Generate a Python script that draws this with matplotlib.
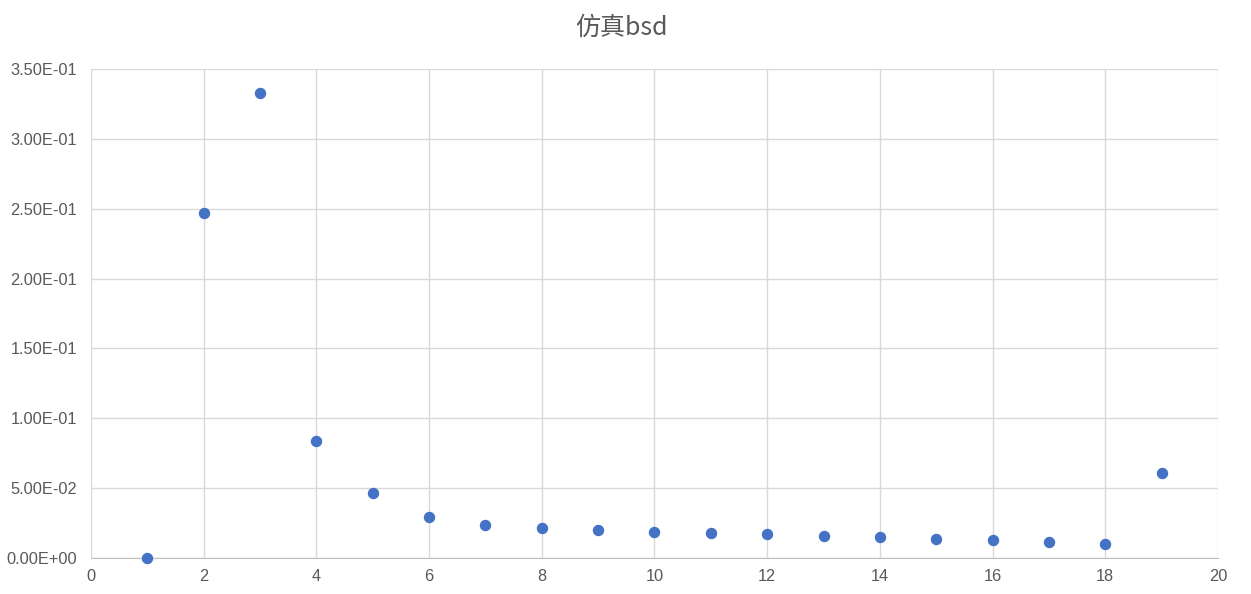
import matplotlib.pyplot as plt
from matplotlib.ticker import FuncFormatter, MultipleLocator

# data
x_vals = [1, 2, 3, 4, 5, 6, 7, 8, 9, 10, 11, 12, 13, 14, 15, 16, 17, 18, 19]
bsd_vals = [0.0003, 0.2469, 0.3328, 0.0839, 0.0467, 0.0294, 0.0234, 0.0215,
            0.0200, 0.0186, 0.0179, 0.0172, 0.0155, 0.0150, 0.0136, 0.0129,
            0.0115, 0.0098, 0.0609]
title_text = "仿真bsd"

plt.rcParams["font.family"] = ["Liberation Sans Narrow", "Liberation Sans", "DejaVu Sans"]

fig = plt.figure(figsize=(12.51, 5.94), dpi=100)
ax = fig.add_axes([0.0727, 0.0606, 0.9009, 0.8232])

ax.scatter(x_vals, bsd_vals, s=52, color="#4472C4", zorder=3, clip_on=False)

ax.set_xlim(0, 20)
ax.set_ylim(0, 0.35)
ax.xaxis.set_major_locator(MultipleLocator(2))
ax.yaxis.set_major_locator(MultipleLocator(0.05))


def sci_fmt(v, pos):
    s = "%.2E" % v
    return s


ax.yaxis.set_major_formatter(FuncFormatter(sci_fmt))

ax.grid(True, color="#D9D9D9", linewidth=1)
ax.set_axisbelow(True)
for side in ["left", "right", "top"]:
    ax.spines[side].set_visible(False)
ax.spines["bottom"].set_color("#BFBFBF")
ax.tick_params(axis="both", length=0, labelsize=11.8, labelcolor="#595959", pad=8)
ax.tick_params(axis="y", pad=10)

fig.suptitle(title_text, x=0.497, y=0.975, fontsize=18, color="#595959",
             family=["Noto Sans CJK SC", "DejaVu Sans"])

fig.savefig("out.png", dpi=100)
